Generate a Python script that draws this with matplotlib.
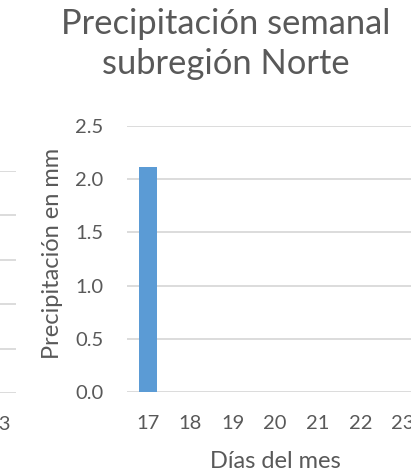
import matplotlib
matplotlib.use("Agg")
import matplotlib.pyplot as plt

days = [17, 18, 19, 20, 21, 22, 23]
precip_mm = [2.11, 0, 0, 0, 0, 0, 0]
yticks = [0.0, 0.5, 1.0, 1.5, 2.0, 2.5]

title = "Precipitación semanal\nsubregión Norte"
ylabel = "Precipitación en mm"
xlabel = "Días del mes"

TXT = "#595959"
GRID = "#D9D9D9"
BAR = "#5B9BD5"
FONT = "Lato"
TICK_FS = 14.5
LABEL_FS = 17

W, H = 411, 474
fig = plt.figure(figsize=(W / 100, H / 100), dpi=100)

def px(l, b, r, t):
    return [l / W, (H - b) / H, (r - l) / W, (b - t) / H]

# neighbouring (cropped) panel on the left
axL = fig.add_axes(px(-222, 393, 16, 171))
axL.set_xlim(16.5, 23.5)
axL.set_ylim(0, 2.5)
axL.set_yticks(yticks)
axL.set_xticks(days)
axL.set_xticklabels([str(d) for d in days], fontsize=TICK_FS, color=TXT, family=FONT)
axL.set_yticklabels([])
axL.grid(axis="y", color=GRID, linewidth=1.3)
axL.set_axisbelow(True)
axL.tick_params(length=0, pad=16.5)
for s in axL.spines.values():
    s.set_visible(False)

# main panel
ax = fig.add_axes(px(126.5, 392, 424, 126))
ax.bar(days, precip_mm, width=0.42, color=BAR, zorder=3)
ax.set_xlim(16.5, 23.5)
ax.set_ylim(0, 2.5)
ax.set_yticks(yticks)
ax.set_yticklabels([f"{v:.1f}" for v in yticks], fontsize=TICK_FS, color=TXT, family=FONT)
ax.set_xticks(days)
ax.set_xticklabels([str(d) for d in days], fontsize=TICK_FS, color=TXT, family=FONT)
ax.grid(axis="y", color=GRID, linewidth=1.3, zorder=0)
ax.tick_params(axis="y", length=0, pad=16.5)
ax.tick_params(axis="x", length=0, pad=16.5)
for s in ax.spines.values():
    s.set_visible(False)

fig.text(226 / W, 1 - 8 / H, title, ha="center", va="top", fontsize=24.8,
         color=TXT, family=FONT, linespacing=1.31)
fig.text(52 / W, 1 - 253 / H, ylabel, rotation=90, ha="center", va="center",
         fontsize=LABEL_FS, color=TXT, family=FONT)
fig.text(275 / W, 1 - 462 / H, xlabel, ha="center", va="center",
         fontsize=LABEL_FS, color=TXT, family=FONT)

fig.savefig("out.png", dpi=100)
